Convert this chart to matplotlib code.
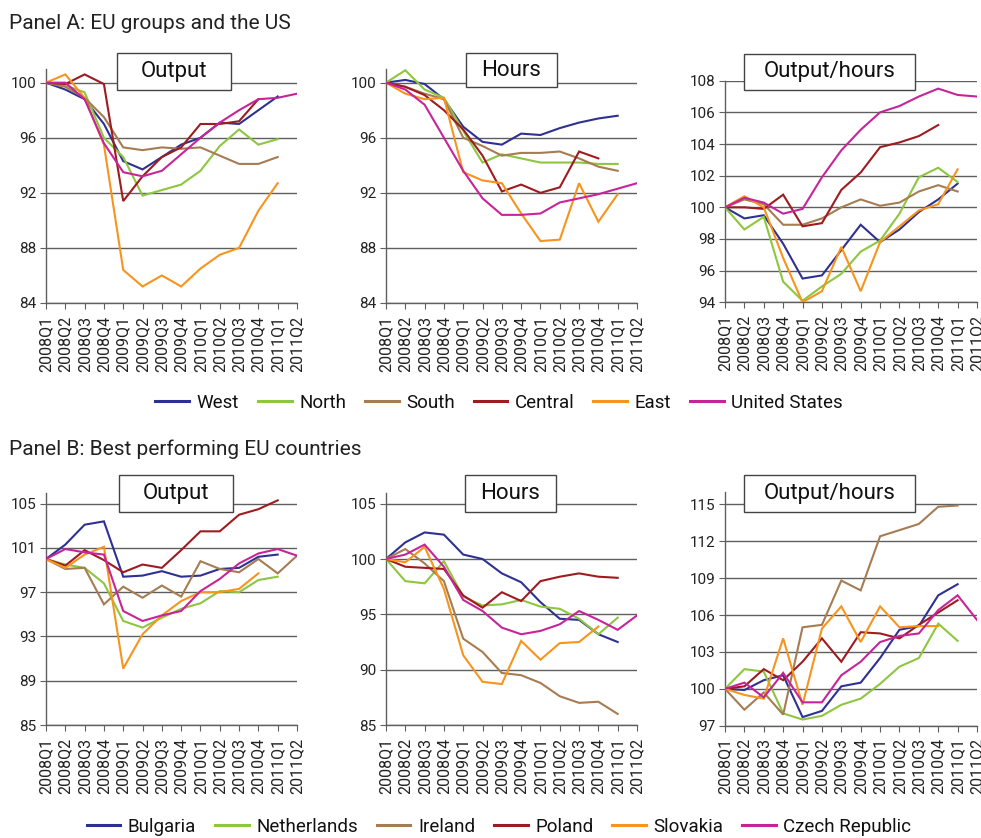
import numpy as np
import matplotlib
matplotlib.use("Agg")
import matplotlib.pyplot as plt
from matplotlib.patches import Rectangle
from matplotlib import font_manager

nan = np.nan

categories = ['2008Q1', '2008Q2', '2008Q3', '2008Q4', '2009Q1', '2009Q2', '2009Q3',
              '2009Q4', '2010Q1', '2010Q2', '2010Q3', '2010Q4', '2011Q1', '2011Q2']

# ---------------- Panel A ----------------
groups_a = ['West', 'North', 'South', 'Central', 'East', 'United States']

a_output_west = [100, 99.5, 98.8, 97.0, 94.3, 93.7, 94.6, 95.5, 96.0, 97.1, 97.0, 98.0, 99.0, nan]
a_output_north = [100, 99.8, 99.3, 96.0, 94.6, 91.8, 92.2, 92.6, 93.6, 95.4, 96.6, 95.5, 95.9, nan]
a_output_south = [100, 99.7, 98.9, 97.5, 95.3, 95.1, 95.3, 95.2, 95.3, 94.7, 94.1, 94.1, 94.6, nan]
a_output_central = [100, 99.9, 100.6, 99.9, 91.4, 93.2, 94.6, 95.3, 97.0, 97.0, 97.2, 98.8, nan, nan]
a_output_east = [100, 100.6, 98.9, 95.5, 86.4, 85.2, 86.0, 85.2, 86.5, 87.5, 88.0, 90.7, 92.7, nan]
a_output_us = [100, 100.0, 98.8, 95.6, 93.5, 93.2, 93.6, 94.8, 96.0, 97.1, 98.0, 98.8, 98.9, 99.2]

a_hours_west = [100, 100.2, 99.9, 98.8, 96.8, 95.7, 95.5, 96.3, 96.2, 96.7, 97.1, 97.4, 97.6, nan]
a_hours_north = [100, 100.9, 99.5, 98.9, 96.5, 94.2, 94.8, 94.5, 94.2, 94.2, 94.2, 94.1, 94.1, nan]
a_hours_south = [100, 99.7, 99.2, 98.8, 96.0, 95.4, 94.7, 94.9, 94.9, 95.0, 94.5, 93.9, 93.6, nan]
a_hours_central = [100, 99.7, 99.1, 98.0, 96.6, 94.7, 92.1, 92.6, 92.0, 92.4, 95.0, 94.5, nan, nan]
a_hours_east = [100, 99.2, 98.8, 98.9, 93.5, 92.9, 92.7, 90.5, 88.5, 88.6, 92.7, 89.9, 91.9, nan]
a_hours_us = [100, 99.5, 98.4, 96.0, 93.6, 91.6, 90.4, 90.4, 90.5, 91.3, 91.6, 91.9, 92.3, 92.7]

a_prod_west = [100, 99.3, 99.5, 97.7, 95.5, 95.7, 97.3, 98.9, 97.8, 98.6, 99.7, 100.5, 101.5, nan]
a_prod_north = [100, 98.6, 99.4, 95.3, 94.1, 95.0, 95.8, 97.2, 97.9, 99.6, 101.9, 102.5, 101.6, nan]
a_prod_south = [100, 100.5, 100.2, 98.9, 98.9, 99.3, 100.0, 100.5, 100.1, 100.3, 101.0, 101.4, 101.0, nan]
a_prod_central = [100, 100.0, 99.9, 100.8, 98.8, 99.0, 101.1, 102.2, 103.8, 104.1, 104.5, 105.2, nan, nan]
a_prod_east = [100, 100.7, 100.0, 96.8, 94.0, 94.7, 97.5, 94.7, 97.8, 98.8, 99.8, 100.2, 102.4, nan]
a_prod_us = [100, 100.6, 100.3, 99.6, 99.9, 101.9, 103.6, 104.9, 106.0, 106.4, 107.0, 107.5, 107.1, 107.0]

# ---------------- Panel B ----------------
countries_b = ['Bulgaria', 'Netherlands', 'Ireland', 'Poland', 'Slovakia', 'Czech Republic']

b_output_bg = [100, 101.3, 103.1, 103.4, 98.4, 98.5, 98.9, 98.4, 98.5, 99.1, 99.2, 100.2, 100.4, nan]
b_output_nl = [100, 99.5, 99.2, 97.8, 94.4, 93.8, 94.7, 95.5, 96.0, 97.1, 97.0, 98.1, 98.4, nan]
b_output_ie = [100, 99.1, 99.2, 95.9, 97.5, 96.5, 97.6, 96.6, 99.8, 99.1, 98.8, 100.0, 98.7, 100.3]
b_output_pl = [100, 99.4, 100.8, 99.9, 98.8, 99.5, 99.2, 100.8, 102.5, 102.5, 104.0, 104.5, 105.3, nan]
b_output_sk = [100, 99.2, 100.4, 101.1, 90.1, 93.2, 94.9, 96.2, 97.0, 97.0, 97.3, 98.7, nan, nan]
b_output_cz = [100, 100.9, 100.6, 100.4, 95.3, 94.4, 94.9, 95.3, 97.1, 98.2, 99.6, 100.5, 100.9, 100.3]

b_hours_bg = [100, 101.5, 102.4, 102.2, 100.4, 100.0, 98.7, 97.9, 96.1, 94.6, 94.5, 93.2, 92.5, nan]
b_hours_nl = [100, 98.0, 97.8, 99.8, 96.6, 95.8, 95.9, 96.3, 95.7, 95.5, 94.6, 93.2, 94.7, nan]
b_hours_ie = [100, 100.9, 99.6, 98.0, 92.8, 91.6, 89.7, 89.5, 88.8, 87.6, 87.0, 87.1, 86.0, nan]
b_hours_pl = [100, 99.3, 99.2, 99.1, 96.7, 95.6, 97.0, 96.2, 98.0, 98.4, 98.7, 98.4, 98.3, nan]
b_hours_sk = [100, 99.7, 101.1, 97.3, 91.3, 88.9, 88.7, 92.6, 90.9, 92.4, 92.5, 93.9, nan, nan]
b_hours_cz = [100, 100.4, 101.3, 99.3, 96.3, 95.3, 93.8, 93.2, 93.5, 94.1, 95.3, 94.5, 93.6, 94.9]

b_prod_bg = [100, 99.9, 100.7, 101.1, 97.7, 98.2, 100.2, 100.5, 102.5, 104.8, 105.1, 107.6, 108.5, nan]
b_prod_nl = [100, 101.6, 101.4, 98.0, 97.5, 97.8, 98.7, 99.2, 100.4, 101.8, 102.5, 105.3, 103.9, nan]
b_prod_ie = [100, 98.3, 99.7, 97.9, 105.0, 105.2, 108.8, 108.0, 112.4, 112.9, 113.4, 114.8, 114.9, nan]
b_prod_pl = [100, 100.2, 101.6, 100.7, 102.2, 104.1, 102.2, 104.6, 104.5, 104.1, 105.2, 106.2, 107.2, nan]
b_prod_sk = [100, 99.5, 99.2, 104.1, 98.7, 104.9, 106.7, 103.8, 106.7, 105.0, 105.1, 105.1, nan, nan]
b_prod_cz = [100, 100.5, 99.3, 101.3, 98.9, 98.9, 101.1, 102.2, 103.8, 104.3, 104.5, 106.4, 107.6, 105.6]

colors = ['#2e3192', '#8dc63f', '#a67c52', '#9e1b20', '#f7941d', '#c7249a']

# ---------------- fonts ----------------
available = {f.name for f in font_manager.fontManager.ttflist}
family = 'Roboto' if 'Roboto' in available else 'DejaVu Sans'
plt.rcParams['font.family'] = [family, 'DejaVu Sans']

W, H = 981, 838
fig = plt.figure(figsize=(W / 100, H / 100), dpi=100)
fig.patch.set_facecolor('white')

GRID = '#5f5f5f'


def px_axes(left, top, right, bottom):
    return fig.add_axes([left / W, 1 - bottom / H, (right - left) / W, (bottom - top) / H])


def title_box(x0, y0, x1, y1, text):
    rect = Rectangle((x0 / W, 1 - y1 / H), (x1 - x0) / W, (y1 - y0) / H,
                     transform=fig.transFigure, facecolor='white',
                     edgecolor='#444444', linewidth=1.0, zorder=10)
    fig.add_artist(rect)
    fig.text((x0 + x1) / 2 / W, 1 - (y0 + y1) / 2 / H, text, ha='center', va='center',
             fontsize=16, color='#111111', zorder=11)


def panel(ax, series, labels, ylim, yticks):
    x = np.arange(len(categories))
    handles = []
    for vals, lab, col in zip(series, labels, colors):
        h, = ax.plot(x, np.array(vals, dtype=float), color=col, lw=1.5, label=lab,
                     solid_joinstyle='miter', zorder=3)
        handles.append(h)
    ax.set_xlim(0, len(categories) - 1)
    ax.set_ylim(*ylim)
    ax.set_yticks(yticks)
    ax.set_xticks(x)
    ax.set_xticklabels(categories, rotation=90, fontsize=11.5, color='#222222')
    ax.tick_params(axis='y', labelsize=11, labelcolor='#222222', length=4,
                   color=GRID, pad=3)
    ax.tick_params(axis='x', length=4, color=GRID, pad=5)
    ax.yaxis.grid(True, color=GRID, lw=1.0)
    ax.set_axisbelow(True)
    for s in ['top', 'right']:
        ax.spines[s].set_visible(False)
    for s in ['left', 'bottom']:
        ax.spines[s].set_color(GRID)
        ax.spines[s].set_linewidth(1.0)
    return handles


# ---------------- Panel A axes ----------------
axA1 = px_axes(46, 68.9, 297, 303)
hA = panel(axA1, [a_output_west, a_output_north, a_output_south, a_output_central,
                  a_output_east, a_output_us], groups_a, (84, 101), [84, 88, 92, 96, 100])
axA2 = px_axes(386, 68.9, 637, 303)
panel(axA2, [a_hours_west, a_hours_north, a_hours_south, a_hours_central,
             a_hours_east, a_hours_us], groups_a, (84, 101), [84, 88, 92, 96, 100])
axA3 = px_axes(725, 80.7, 977, 302.3)
panel(axA3, [a_prod_west, a_prod_north, a_prod_south, a_prod_central,
             a_prod_east, a_prod_us], groups_a, (94, 108), [94, 96, 98, 100, 102, 104, 106, 108])

# ---------------- Panel B axes ----------------
axB1 = px_axes(46, 492.6, 297, 725)
hB = panel(axB1, [b_output_bg, b_output_nl, b_output_ie, b_output_pl, b_output_sk, b_output_cz],
           countries_b, (85, 106), [85, 89, 93, 97, 101, 105])
axB2 = px_axes(386, 492.6, 637, 725)
panel(axB2, [b_hours_bg, b_hours_nl, b_hours_ie, b_hours_pl, b_hours_sk, b_hours_cz],
      countries_b, (85, 106), [85, 90, 95, 100, 105])
axB3 = px_axes(725, 492, 977, 725.7)
panel(axB3, [b_prod_bg, b_prod_nl, b_prod_ie, b_prod_pl, b_prod_sk, b_prod_cz],
      countries_b, (97, 116), [97, 100, 103, 106, 109, 112, 115])

# ---------------- title boxes ----------------
title_box(117, 53, 231, 90, 'Output')
title_box(466, 53, 557, 87, 'Hours')
title_box(744, 54, 915, 90, 'Output/hours')
title_box(119, 475, 233, 512, 'Output')
title_box(465, 475, 556, 512, 'Hours')
title_box(744, 475, 915, 512, 'Output/hours')

# ---------------- panel titles ----------------
fig.text(9 / W, 1 - 29 / H, 'Panel A: EU groups and the US', fontsize=15,
         color='#222222', ha='left', va='baseline')
fig.text(9 / W, 1 - 455 / H, 'Panel B: Best performing EU countries', fontsize=15,
         color='#222222', ha='left', va='baseline')

# ---------------- legends ----------------
leg_kw = dict(loc='center', ncol=6, frameon=False, fontsize=13.5, handlelength=1.8,
              handletextpad=0.4, columnspacing=1.0, borderpad=0, labelcolor='#111111')
legA = fig.legend(hA, groups_a, bbox_to_anchor=(499 / W, 1 - 403 / H), **leg_kw)
legB = fig.legend(hB, countries_b, bbox_to_anchor=(499 / W, 1 - 827 / H), **leg_kw)
for leg in (legA, legB):
    for line in leg.get_lines():
        line.set_linewidth(2.2)

fig.savefig('out.png', dpi=100, facecolor='white')
